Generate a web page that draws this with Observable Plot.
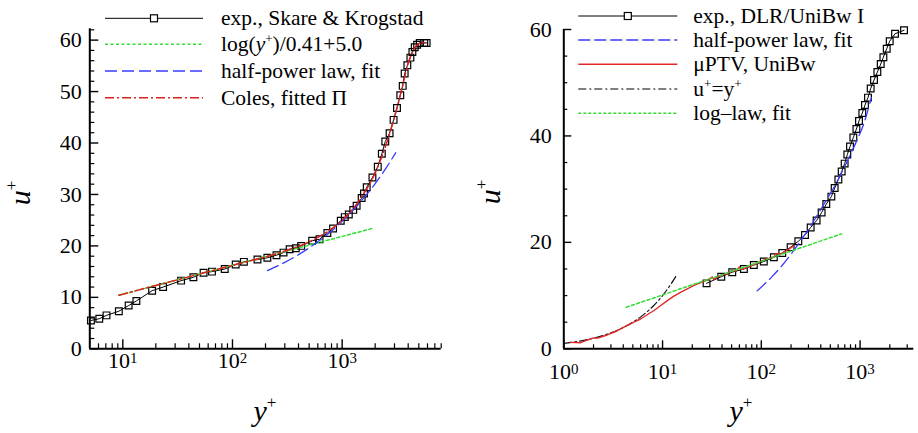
<!DOCTYPE html>
<html>
<head>
<meta charset="utf-8">
<script src="https://cdn.jsdelivr.net/npm/d3@7"></script>
<script src="https://cdn.jsdelivr.net/npm/@observablehq/plot@0.6"></script>
<style>
  body { margin: 0; background: #fff; }
  #wrap { position: relative; width: 918px; height: 433px; overflow: hidden; }
  #wrap svg { position: absolute; top: 0; }
</style>
</head>
<body>
<div id="wrap"></div>
<script>
// ---- Left panel: Skare & Krogstad ----
const skareY = [5.12, 6.1, 7.1, 9.2, 11.3, 13.3, 18.5, 23.3, 34, 44, 54.5, 65, 85, 107, 127, 169, 208, 252, 292, 332, 378, 423, 533, 622, 733, 826, 971, 1057, 1150, 1262, 1355, 1506, 1582, 1675, 1888, 2113, 2300, 2473, 2707, 2944, 3162, 3388, 3565, 3715, 3930, 4190, 4370, 4590, 4830, 5100, 5610, 5890];
const skareU = [5.5, 5.85, 6.5, 7.3, 8.4, 9.3, 11.3, 12.0, 13.25, 13.9, 14.8, 15.0, 15.5, 16.4, 16.9, 17.35, 17.7, 18.2, 18.7, 19.35, 19.55, 20.0, 21.0, 21.3, 22.5, 23.4, 24.9, 25.6, 26.1, 27.0, 27.8, 29.3, 30.2, 31.4, 33.3, 35.4, 37.9, 40.3, 41.9, 44.5, 46.8, 49.3, 51.1, 53.5, 55.1, 56.6, 57.7, 58.6, 59.1, 59.45, 59.45, 59.45];

// log(y+)/0.41+5.0, end points of the straight segment
const logLawLY = [9.2, 1950];
const logLawLU = [10.41, 23.48];

// half-power law fit
const halfLY = [208, 300, 400, 600, 800, 1000, 1500, 2000, 2500, 3076];
const halfLU = [15.2, 16.8, 18.3, 20.8, 22.9, 24.8, 28.8, 32.1, 35.05, 38.1];

// Coles law of the wall + wake, fitted Pi
const colesY = [9.2, 30, 100, 300, 500, 700, 1000, 1300, 1600, 2000, 2500, 3000, 3500, 4000, 4500, 5000, 5500, 5900];
const colesU = [10.41, 13.3, 16.23, 19.0, 20.8, 22.5, 25.0, 27.6, 30.4, 34.2, 39.5, 45.0, 50.5, 55.5, 58.2, 59.3, 59.5, 59.6];

// ---- Right panel: DLR/UniBw I ----
const dlrY = [27.9, 39.3, 50.8, 66.6, 84, 106, 134, 163, 198, 237, 277, 316, 363, 408, 455, 512, 553, 603, 651, 698, 743, 791, 855, 918, 975, 1054, 1121, 1203, 1280, 1384, 1497, 1618, 1722, 1862, 1996, 2260, 2786];
const dlrU = [12.3, 13.55, 14.4, 15.0, 15.75, 16.4, 17.2, 18.0, 19.1, 20.2, 21.4, 22.8, 24.1, 25.6, 27.2, 28.6, 30.2, 31.8, 33.3, 34.8, 36.5, 38.0, 39.7, 41.3, 42.8, 44.3, 45.8, 47.2, 48.9, 50.5, 52.0, 53.5, 54.8, 56.4, 57.8, 59.2, 59.85];

const halfRY = [91, 129, 163, 206, 250, 304, 355, 431, 550, 700, 900, 1100, 1301];
const halfRU = [10.9, 13.6, 15.7, 18.1, 20.3, 22.6, 24.6, 27.2, 30.5, 34.3, 38.6, 42.5, 47.2];

const ptvY = [1.17, 1.48, 1.7, 2.0, 2.2, 2.75, 3.3, 4.06, 5.0, 5.98, 7.0, 8.2, 9.5, 11.2, 13, 15.2, 18, 20.8, 24, 28.4, 32, 33, 35, 40, 45.3, 50, 55, 60, 62, 72, 90, 100, 115, 135, 140, 157, 185, 214];
const ptvU = [1.2, 1.15, 1.6, 2.06, 2.0, 2.6, 3.2, 4.06, 4.9, 5.6, 6.4, 7.2, 8.1, 9.06, 9.9, 10.6, 11.3, 11.9, 12.4, 12.9, 13.5, 13.0, 13.4, 13.9, 14.1, 14.7, 14.6, 15.4, 14.9, 15.3, 16.0, 16.5, 16.9, 17.3, 17.9, 17.8, 18.6, 19.4];

// u+ = y+
const linY = [1, 2, 3, 4, 5, 6, 7, 8, 9, 10, 11, 12, 13, 14];
const linU = [1, 2, 3, 4, 5, 6, 7, 8, 9, 10, 11, 12, 13, 14];

const logLawRY = [4.29, 651];
const logLawRU = [7.8, 21.6];

// tick values
const majorYL = [0, 10, 20, 30, 40, 50, 60];
const minorYL = d3.range(2, 63, 2).filter(v => v % 10 !== 0);
const majorXL = [10, 100, 1000];
const minorXL = [6, 7, 8, 9, 20, 30, 40, 50, 60, 70, 80, 90, 200, 300, 400, 500, 600, 700, 800, 900, 2000, 3000, 4000, 5000, 6000, 7000, 8000];
const majorYR = [0, 20, 40, 60];
const minorYR = [5, 10, 15, 25, 30, 35, 45, 50, 55];
const majorXR = [1, 10, 100, 1000];
const minorXR = [2, 3, 4, 5, 6, 7, 8, 9, 20, 30, 40, 50, 60, 70, 80, 90, 200, 300, 400, 500, 600, 700, 800, 900, 2000, 3000];

const GREEN = "#33dd33", BLUE = "#3a3aff", RED = "#dd2020";
const SERIF = "'Liberation Serif', 'Times New Roman', serif";

const zip = (xs, ys) => xs.map((x, i) => ({x, y: ys[i]}));

function supTicks(svg, big, small, lift) {
  d3.select(svg).selectAll("text").each(function () {
    const m = /^10\^(\d+)$/.exec(this.textContent);
    if (!m) return;
    const s = d3.select(this);
    s.text(null);
    s.append("tspan").text("10");
    s.append("tspan").attr("font-size", small).attr("dy", -lift).text(m[1]);
  });
}

function panel(cfg) {
  const iw = cfg.width - cfg.mL - cfg.mR;
  const ih = 433 - cfg.mT - cfg.mB;
  const svg = Plot.plot({
    width: cfg.width, height: 433,
    marginLeft: cfg.mL, marginRight: cfg.mR, marginTop: cfg.mT, marginBottom: cfg.mB,
    style: {fontFamily: SERIF, background: "transparent", overflow: "visible", color: "#000"},
    x: {type: "log", domain: cfg.xDomain},
    y: {domain: cfg.yDomain},
    marks: [
      Plot.tickY(cfg.majorY, {y: d => d, insetRight: iw - cfg.tMaj, strokeWidth: 1.4}),
      Plot.tickY(cfg.minorY, {y: d => d, insetRight: iw - cfg.tMin, strokeWidth: 1.2}),
      Plot.tickX(cfg.majorX, {x: d => d, insetTop: ih - cfg.tMaj, strokeWidth: 1.4}),
      Plot.tickX(cfg.minorX, {x: d => d, insetTop: ih - cfg.tMin, strokeWidth: 1.2}),
      Plot.axisY({ticks: cfg.majorY, tickSize: 0, tickPadding: cfg.padY, fontSize: cfg.font, label: null}),
      Plot.axisX({ticks: cfg.labelX, tickSize: 0, tickPadding: cfg.padX, fontSize: cfg.font, label: null,
                  tickFormat: d => "10^" + Math.round(Math.log10(d))}),
      ...cfg.marks,
      Plot.ruleX([cfg.xDomain[0]], {strokeWidth: 2}),
      Plot.ruleY([0], {strokeWidth: 2})
    ]
  });
  supTicks(svg, cfg.font, cfg.font * 0.68, 5);
  svg.style.left = cfg.left + "px";
  document.getElementById("wrap").appendChild(svg);
}

panel({
  left: 0, width: 460, mL: 89.3, mR: 19.3, mT: 28.3, mB: 84.7,
  xDomain: [5, 8000], yDomain: [0, 62.2], tMaj: 9, tMin: 5, font: 22, padY: 8, padX: 4,
  majorY: majorYL, minorY: minorYL, majorX: majorXL, minorX: minorXL, labelX: [10, 100, 1000],
  marks: [
    Plot.line(zip(skareY, skareU), {x: "x", y: "y", stroke: "#000", strokeWidth: 1}),
    Plot.dot(zip(skareY, skareU), {x: "x", y: "y", symbol: "square", r: 3.8, stroke: "#000", strokeWidth: 1.2, fill: "none"}),
    Plot.line(zip(logLawLY, logLawLU), {x: "x", y: "y", stroke: GREEN, strokeWidth: 1.5, strokeDasharray: "3,2.5"}),
    Plot.line(zip(halfLY, halfLU), {x: "x", y: "y", stroke: BLUE, strokeWidth: 1.3, strokeDasharray: "12,5", curve: "monotone-x"}),
    Plot.line(zip(colesY, colesU), {x: "x", y: "y", stroke: RED, strokeWidth: 1.5, strokeDasharray: "9,3,2,3", curve: "monotone-x"})
  ]
});

panel({
  left: 460, width: 458, mL: 103.3, mR: 4.7, mT: 29, mB: 84.7,
  xDomain: [1, 3500], yDomain: [0, 60], tMaj: 8, tMin: 4, font: 22, padY: 12, padX: 15,
  majorY: majorYR, minorY: minorYR, majorX: majorXR, minorX: minorXR, labelX: [1, 10, 100, 1000],
  marks: [
    Plot.line(zip(dlrY, dlrU), {x: "x", y: "y", stroke: "#000", strokeWidth: 1}),
    Plot.dot(zip(dlrY, dlrU), {x: "x", y: "y", symbol: "square", r: 3.8, stroke: "#000", strokeWidth: 1.2, fill: "none"}),
    Plot.line(zip(halfRY, halfRU), {x: "x", y: "y", stroke: BLUE, strokeWidth: 1.3, strokeDasharray: "12,5", curve: "monotone-x"}),
    Plot.line(zip(linY, linU), {x: "x", y: "y", stroke: "#111", strokeWidth: 1.2, strokeDasharray: "8,3,2,3", curve: "monotone-x"}),
    Plot.line(zip(ptvY, ptvU), {x: "x", y: "y", stroke: "#e02828", strokeWidth: 1.4}),
    Plot.line(zip(logLawRY, logLawRU), {x: "x", y: "y", stroke: GREEN, strokeWidth: 1.5, strokeDasharray: "3,2.5"})
  ]
});

// ---- legends and axis titles ----
const ov = d3.select("#wrap").append("svg")
  .attr("width", 918).attr("height", 433)
  .style("left", "0px")
  .attr("font-family", SERIF);

function legendRow(x1, x2, y, style, tx, parts, marker) {
  const g = ov.append("g");
  g.append("line").attr("x1", x1).attr("x2", x2).attr("y1", y).attr("y2", y)
    .attr("stroke", style.stroke).attr("stroke-width", style.width)
    .attr("stroke-dasharray", style.dash || null);
  if (marker) {
    g.append("rect").attr("x", (x1 + x2) / 2 - 3.5).attr("y", y - 3.5).attr("width", 7).attr("height", 7)
      .attr("fill", "#fff").attr("stroke", "#000").attr("stroke-width", 1.2);
  }
  const t = g.append("text").attr("x", tx).attr("y", y + 7).attr("font-size", 21.5).attr("fill", "#000");
  parts.forEach(p => {
    if (typeof p === "string") { t.append("tspan").text(p); return; }
    const s = t.append("tspan").text(p.t);
    if (p.italic) s.attr("font-style", "italic");
    if (p.sup) s.attr("font-size", 13).attr("dy", -8);
    if (p.down) s.attr("dy", 8);
  });
}

// left legend
legendRow(105, 203, 18.3, {stroke: "#000", width: 1}, 221, ["exp., Skare & Krogstad"], true);
legendRow(105, 203, 44.3, {stroke: GREEN, width: 1.5, dash: "3,2.5"}, 221,
  ["log(", {t: "y", italic: true}, {t: "+", sup: true}, {t: ")/0.41+5.0", down: true}]);
legendRow(105, 203, 71, {stroke: BLUE, width: 1.3, dash: "12,5"}, 221, ["half-power law, fit"]);
legendRow(105, 203, 97.7, {stroke: RED, width: 1.5, dash: "9,3,2,3"}, 221, ["Coles, fitted \u03A0"]);

// right legend
legendRow(578.3, 677.3, 16, {stroke: "#000", width: 1}, 693.3, ["exp., DLR/UniBw I"], true);
legendRow(578.3, 677.3, 40, {stroke: BLUE, width: 1.3, dash: "12,4"}, 693.3, ["half-power law, fit"]);
legendRow(578.3, 677.3, 64.3, {stroke: "#e02828", width: 1.5}, 693.3, ["\u03BCPTV, UniBw"]);
legendRow(578.3, 677.3, 89, {stroke: "#555", width: 1.3, dash: "8,3,2,3"}, 693.3,
  ["u", {t: "+", sup: true}, {t: "=y", down: true}, {t: "+", sup: true}]);
legendRow(578.3, 677.3, 113.3, {stroke: GREEN, width: 1.5, dash: "3,2"}, 693.3, ["log\u2013law, fit"]);

// axis titles
function yTitle(x, y) {
  const t = ov.append("text").attr("transform", `translate(${x},${y}) rotate(-90)`)
    .attr("text-anchor", "middle").attr("font-size", 30);
  t.append("tspan").attr("font-style", "italic").text("u");
  t.append("tspan").attr("font-size", 17).attr("dy", -13).text("+");
}
function xTitle(x, y) {
  const t = ov.append("text").attr("x", x).attr("y", y).attr("text-anchor", "middle").attr("font-size", 30);
  t.append("tspan").attr("font-style", "italic").text("y");
  t.append("tspan").attr("font-size", 17).attr("dy", -13).text("+");
}
yTitle(30, 193);
yTitle(500, 192);
xTitle(265, 421);
xTitle(741, 421);
</script>
</body>
</html>
